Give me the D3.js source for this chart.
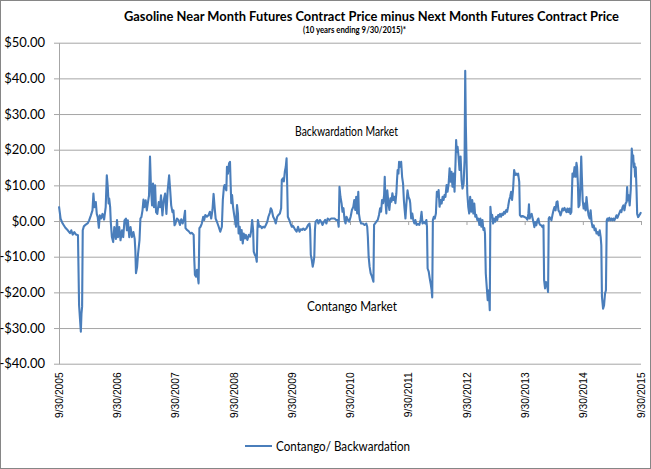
<!DOCTYPE html>
<html>
<head>
<meta charset="utf-8">
<script src="https://cdn.jsdelivr.net/npm/d3@7"></script>
<style>
  body { margin: 0; background: #fff; }
  svg { display: block; }
  .grid line { stroke: #a6a6a6; }
  .grid path { display: none; }
</style>
</head>
<body>
<svg id="chart" width="651" height="469"></svg>
<script>
// Near month minus next month spread (one array per Oct-Sep year)
const fy2006 = [["2005-09-30",4.1],["2005-10-10",0.7],["2005-10-23",-0.7],["2005-11-09",-1.9],["2005-11-24",-2.6],["2005-12-08",-3.4],["2005-12-16",-2.6],["2005-12-25",-3.8],["2006-01-04",-3.1],["2006-01-15",-3.8],["2006-01-27",-4.0],["2006-02-03",-23.6],["2006-02-10",-28.3],["2006-02-14",-31],["2006-02-18",-26],["2006-02-22",-24],["2006-02-26",-2.6],["2006-03-05",-1.5],["2006-03-17",-1],["2006-03-30",-0.6],["2006-04-07",0.2],["2006-04-18",1.6],["2006-04-28",3],["2006-05-04",7.7],["2006-05-10",3.9],["2006-05-19",5.3],["2006-05-25",2],["2006-05-31",1.1],["2006-06-07",-1.9],["2006-06-13",1.6],["2006-06-21",0.7],["2006-06-30",2],["2006-07-10",0.4],["2006-07-20",3.9],["2006-07-27",12.8],["2006-08-02",9.5],["2006-08-07",4.9],["2006-08-11",6.3],["2006-08-17",3.9],["2006-08-21",-0.3],["2006-08-28",-4.5],["2006-09-05",-5.9],["2006-09-12",-1.7],["2006-09-22",-5],["2006-09-29",0.3]];
const fy2007 = [["2006-10-05",-4.5],["2006-10-13",-1.7],["2006-10-21",-5.4],["2006-10-30",-2.6],["2006-11-07",-4.5],["2006-11-15",0.2],["2006-11-24",0.7],["2006-11-30",-2.6],["2006-12-06",0.2],["2006-12-15",-4.5],["2006-12-23",-1.7],["2007-01-01",-4.5],["2007-01-10",-3.1],["2007-01-18",-5],["2007-01-22",-8.2],["2007-01-26",-14.6],["2007-02-02",-12.9],["2007-02-08",-9.2],["2007-02-17",-5.4],["2007-02-23",0.7],["2007-03-01",1.1],["2007-03-08",3],["2007-03-14",6],["2007-03-20",3.9],["2007-03-28",5.8],["2007-04-04",3],["2007-04-10",4.9],["2007-04-18",7.2],["2007-04-24",18.1],["2007-04-30",9.5],["2007-05-07",4.4],["2007-05-13",10.5],["2007-05-19",3.9],["2007-05-26",10],["2007-06-01",2.5],["2007-06-09",2],["2007-06-18",5.3],["2007-06-26",3.9],["2007-07-02",7.2],["2007-07-11",1.6],["2007-07-19",5.8],["2007-07-28",7.7],["2007-08-05",2],["2007-08-13",8.6],["2007-08-22",12.8],["2007-08-28",9.1],["2007-09-04",4.4],["2007-09-12",2.5],["2007-09-18",3],["2007-09-25",-1.2]];
const fy2008 = [["2007-10-03",-0.3],["2007-10-10",0.7],["2007-10-20",0.3],["2007-10-29",-1.1],["2007-11-06",0.5],["2007-11-15",-0.7],["2007-11-23",0.7],["2007-11-30",2.9],["2007-12-03",-2],["2007-12-12",-2.5],["2007-12-22",-2.8],["2008-01-02",-3.5],["2008-01-12",-3.3],["2008-01-23",-3.9],["2008-01-27",-10.9],["2008-01-31",-15.1],["2008-02-07",-15.6],["2008-02-13",-13.7],["2008-02-19",-16],["2008-02-23",-17.5],["2008-02-28",-2],["2008-03-06",-1.6],["2008-03-14",-0.7],["2008-03-23",1.2],["2008-03-29",0.3],["2008-04-05",1.7],["2008-04-15",1.2],["2008-04-26",1.7],["2008-05-04",2.6],["2008-05-12",0.7],["2008-05-20",3.1],["2008-05-27",7.6],["2008-06-03",3.6],["2008-06-09",0.7],["2008-06-17",-0.2],["2008-06-28",-1.6],["2008-07-08",-3],["2008-07-18",-1.6],["2008-07-24",5.9],["2008-07-31",9.6],["2008-08-04",10.1],["2008-08-11",9.1],["2008-08-15",8.6],["2008-08-19",15.2],["2008-08-25",13.3],["2008-09-01",16.2],["2008-09-07",16.6],["2008-09-11",10.5],["2008-09-15",5],["2008-09-20",7.3],["2008-09-26",4]];
const fy2009 = [["2008-10-02",2.1],["2008-10-08",0.3],["2008-10-15",-1.6],["2008-10-21",4.5],["2008-10-27",2.1],["2008-10-31",-3.5],["2008-11-07",-1.6],["2008-11-13",-5.3],["2008-11-19",-2.5],["2008-11-26",-6.3],["2008-12-02",-3.5],["2008-12-10",-4.9],["2008-12-16",-3.9],["2008-12-25",-5.3],["2009-01-03",-3.9],["2009-01-11",-4.4],["2009-01-17",-3],["2009-01-24",0.3],["2009-01-30",-2.5],["2009-02-03",-8.6],["2009-02-10",-9.5],["2009-02-16",-9.9],["2009-02-22",-11.4],["2009-02-26",-2.5],["2009-03-01",0.3],["2009-03-09",-1.6],["2009-03-17",-1.4],["2009-03-26",-2],["2009-04-03",-1.6],["2009-04-12",-1.8],["2009-04-20",-1.1],["2009-04-29",-0.2],["2009-05-06",1.2],["2009-05-15",2.3],["2009-05-21",3.6],["2009-05-27",3.1],["2009-06-05",1.2],["2009-06-13",0.5],["2009-06-21",-0.7],["2009-06-30",1.2],["2009-07-08",1.7],["2009-07-17",2.1],["2009-07-25",3.6],["2009-07-29",11.5],["2009-08-05",12],["2009-08-11",11.1],["2009-08-17",13.8],["2009-08-23",15.2],["2009-08-28",17.6],["2009-09-01",9.6],["2009-09-05",1.2],["2009-09-14",0.3],["2009-09-22",-0.7]];
const fy2010 = [["2009-09-30",-1.6],["2009-10-08",-1.4],["2009-10-22",-2.5],["2009-10-30",-3],["2009-11-08",-1.6],["2009-11-17",-3],["2009-11-25",-2.3],["2009-12-03",-2.5],["2009-12-11",-2.1],["2009-12-20",-2.5],["2009-12-30",-2.1],["2010-01-10",-1.1],["2010-01-19",-0.7],["2010-01-23",-2.5],["2010-01-27",-9.5],["2010-02-02",-10.9],["2010-02-08",-12.8],["2010-02-14",-11.4],["2010-02-18",-10],["2010-02-22",-2.5],["2010-02-26",-0.2],["2010-03-08",0.3],["2010-03-16",-0.7],["2010-03-25",0.3],["2010-04-02",-0.2],["2010-04-11",-1.1],["2010-04-19",-0.2],["2010-04-27",0.3],["2010-05-05",-0.7],["2010-05-13",0.7],["2010-05-24",0.3],["2010-06-04",0.7],["2010-06-14",0.7],["2010-06-25",0.7],["2010-07-05",0.3],["2010-07-15",0.3],["2010-07-21",-1.6],["2010-07-26",9.6],["2010-08-01",6.8],["2010-08-08",5],["2010-08-14",2.6],["2010-08-20",3.6],["2010-08-27",0.3],["2010-09-02",-0.7],["2010-09-08",1.2],["2010-09-17",0.3],["2010-09-25",-0.2]];
const fy2011 = [["2010-10-04",1.2],["2010-10-12",3.1],["2010-10-21",4],["2010-10-27",5.9],["2010-11-02",3.1],["2010-11-08",6.8],["2010-11-14",2.1],["2010-11-21",8.2],["2010-11-25",2.1],["2010-12-01",0.3],["2010-12-09",-0.7],["2010-12-20",-0.7],["2010-12-30",-1.1],["2011-01-10",-0.7],["2011-01-16",-1.6],["2011-01-20",-4.4],["2011-01-25",-10],["2011-01-31",-12.8],["2011-02-07",-14.7],["2011-02-15",-15.6],["2011-02-24",-17],["2011-02-28",-1.1],["2011-03-06",-0.7],["2011-03-14",-0.2],["2011-03-23",0.3],["2011-03-31",1.7],["2011-04-07",3.6],["2011-04-13",2.6],["2011-04-19",5.9],["2011-04-26",5],["2011-05-02",7.3],["2011-05-06",12.4],["2011-05-10",5.9],["2011-05-16",2.1],["2011-05-22",8.6],["2011-05-29",5],["2011-06-04",3.1],["2011-06-11",6.4],["2011-06-17",5.4],["2011-06-23",7.8],["2011-06-30",5.9],["2011-07-06",6.8],["2011-07-12",5],["2011-07-18",7.8],["2011-07-22",11.5],["2011-07-26",14.3],["2011-07-31",13.3],["2011-08-04",16.6],["2011-08-10",15.2],["2011-08-17",16.6],["2011-08-23",12.4],["2011-08-29",10.5],["2011-09-03",5.9],["2011-09-07",3.6],["2011-09-13",0.7],["2011-09-19",4.9],["2011-09-26",8.6]];
const fy2012 = [["2011-10-02",6.8],["2011-10-10",5.9],["2011-10-13",5],["2011-10-19",0.7],["2011-10-26",2.1],["2011-11-01",0.3],["2011-11-08",-0.7],["2011-11-14",0.3],["2011-11-22",-1.1],["2011-11-30",-0.8],["2011-12-09",-1.1],["2011-12-17",0.3],["2011-12-23",2.6],["2011-12-29",-0.7],["2012-01-07",-0.2],["2012-01-16",-0.7],["2012-01-22",0.3],["2012-01-26",-1.6],["2012-01-30",-13.3],["2012-02-06",-14.2],["2012-02-12",-16],["2012-02-18",-17.5],["2012-02-24",-19.3],["2012-02-28",-21.4],["2012-03-03",0.3],["2012-03-09",1.2],["2012-03-15",0.7],["2012-03-22",2.1],["2012-03-28",8.2],["2012-04-04",6.8],["2012-04-08",8.7],["2012-04-14",4],["2012-04-20",5.9],["2012-04-27",4.9],["2012-05-03",6.8],["2012-05-09",5.9],["2012-05-15",7.3],["2012-05-21",6.8],["2012-05-28",10.1],["2012-06-03",8.2],["2012-06-10",10.5],["2012-06-16",14.8],["2012-06-22",11],["2012-06-28",13.8],["2012-07-04",9.6],["2012-07-11",13.3],["2012-07-17",8.2],["2012-07-23",16.2],["2012-07-27",22.7],["2012-07-31",19.4],["2012-08-05",20.8],["2012-08-11",18.1],["2012-08-17",14.3],["2012-08-24",18.1],["2012-08-30",11.5],["2012-09-05",9.1],["2012-09-12",10.5],["2012-09-18",17.2],["2012-09-22",42.1],["2012-09-26",26.5]];
const fy2013 = [["2012-10-01",15.3],["2012-10-05",7.8],["2012-10-11",4],["2012-10-17",2.1],["2012-10-23",6.8],["2012-10-30",2.6],["2012-11-05",5.9],["2012-11-12",2.1],["2012-11-18",4.9],["2012-11-24",1.2],["2012-11-30",1.7],["2012-12-07",0.3],["2012-12-13",0.7],["2012-12-20",-1.1],["2012-12-26",0.7],["2013-01-01",-1.6],["2013-01-08",0.3],["2013-01-14",-2.5],["2013-01-20",-2],["2013-01-24",-3.5],["2013-01-29",-14.7],["2013-02-04",-18.5],["2013-02-10",-22.2],["2013-02-17",-19.4],["2013-02-23",-25],["2013-02-27",4],["2013-03-04",1.2],["2013-03-10",1.7],["2013-03-16",-0.7],["2013-03-22",0.7],["2013-03-29",-0.2],["2013-04-04",1.2],["2013-04-11",0.3],["2013-04-17",1.7],["2013-04-23",1.2],["2013-04-29",2],["2013-05-05",1.2],["2013-05-12",2.1],["2013-05-18",1.7],["2013-05-24",2.6],["2013-05-30",2.1],["2013-06-06",3.1],["2013-06-12",2.6],["2013-06-18",4],["2013-06-25",5.9],["2013-07-01",6.8],["2013-07-07",8.2],["2013-07-13",5.9],["2013-07-19",8.7],["2013-07-26",14.3],["2013-08-01",12.9],["2013-08-08",13.3],["2013-08-14",12.9],["2013-08-20",13.3],["2013-08-27",11],["2013-08-31",1.7],["2013-09-09",1.2],["2013-09-17",1.4],["2013-09-26",1.2]];
const fy2014 = [["2013-10-09",0.9],["2013-10-17",0.4],["2013-10-23",2],["2013-10-27",4.7],["2013-10-31",0.7],["2013-11-07",1.6],["2013-11-13",2],["2013-11-19",0.7],["2013-11-26",-0.7],["2013-11-30",-1.7],["2013-12-06",-0.3],["2013-12-12",-1.2],["2013-12-19",0.2],["2013-12-25",0.7],["2013-12-31",-0.7],["2014-01-07",-1.2],["2014-01-13",-1.2],["2014-01-19",-1.7],["2014-01-26",-1.2],["2014-01-30",-16.6],["2014-02-05",-18.9],["2014-02-11",-17.1],["2014-02-17",-17.6],["2014-02-24",-19.9],["2014-02-28",0.7],["2014-03-05",1.1],["2014-03-11",0.7],["2014-03-17",0.2],["2014-03-23",1.6],["2014-03-30",3],["2014-04-05",3.9],["2014-04-12",3],["2014-04-18",5.3],["2014-04-24",5.5],["2014-04-30",3],["2014-05-07",2.5],["2014-05-13",1.6],["2014-05-19",2.5],["2014-05-25",3.5],["2014-05-31",3],["2014-06-07",3.7],["2014-06-13",3],["2014-06-19",2.5],["2014-06-25",3.5],["2014-07-02",2.5],["2014-07-08",3.5],["2014-07-14",2],["2014-07-20",2.5],["2014-07-27",13.3],["2014-08-02",12.4],["2014-08-09",15.1],["2014-08-15",12.4],["2014-08-21",16.3],["2014-08-25",15.1],["2014-08-30",10.5],["2014-09-03",3.9],["2014-09-09",4.4],["2014-09-15",10.5],["2014-09-20",18.1],["2014-09-24",12.4],["2014-09-29",5.8]];
const fy2015 = [["2014-10-05",3.5],["2014-10-11",4.9],["2014-10-17",3],["2014-10-23",6.7],["2014-10-30",3.5],["2014-11-05",1.6],["2014-11-12",0.7],["2014-11-18",3],["2014-11-24",-0.3],["2014-11-30",-1.7],["2014-12-07",-1.2],["2014-12-13",-2.6],["2014-12-19",-2.1],["2014-12-25",-3.5],["2015-01-01",-3.1],["2015-01-07",-4],["2015-01-14",-2.6],["2015-01-20",-4.5],["2015-01-24",-6.8],["2015-01-28",-21.3],["2015-02-04",-24.6],["2015-02-10",-23.7],["2015-02-16",-20.4],["2015-02-22",-19.4],["2015-02-27",0.2],["2015-03-03",0.7],["2015-03-09",0.2],["2015-03-15",0.9],["2015-03-22",0.2],["2015-03-28",0.7],["2015-04-04",0.2],["2015-04-10",0.7],["2015-04-16",0.2],["2015-04-23",0.9],["2015-04-29",1.6],["2015-05-05",0.9],["2015-05-11",1.6],["2015-05-17",2.2],["2015-05-24",3],["2015-05-30",2.5],["2015-06-06",3.9],["2015-06-12",4.4],["2015-06-18",3],["2015-06-25",4.9],["2015-07-01",5.3],["2015-07-05",9.5],["2015-07-09",5.8],["2015-07-15",7.2],["2015-07-21",4.4],["2015-07-28",9.1],["2015-08-03",20.3],["2015-08-07",17.9],["2015-08-12",18.4],["2015-08-16",15.1],["2015-08-20",16.1],["2015-08-24",12.4],["2015-08-28",15.1],["2015-09-02",8.6],["2015-09-06",2],["2015-09-12",1.1],["2015-09-19",1.6],["2015-09-25",2],["2015-09-30",2.5]];

const yTicks = [50, 40, 30, 20, 10, 0, -10, -20, -30, -40];
const xTickDates = ["2005-09-30","2006-09-30","2007-09-30","2008-09-30","2009-09-30","2010-09-30",
                    "2011-09-30","2012-09-30","2013-09-30","2014-09-30","2015-09-30"];
const title = "Gasoline Near Month Futures Contract Price minus Next Month Futures Contract Price";
const subtitle = "(10 years ending 9/30/2015)*";
const upperNote = "Backwardation Market";
const lowerNote = "Contango Market";
const seriesName = "Contango/ Backwardation";

const parse = d3.timeParse("%Y-%m-%d");
const data = [].concat(fy2006, fy2007, fy2008, fy2009, fy2010, fy2011, fy2012, fy2013, fy2014, fy2015)
  .map(d => ({date: parse(d[0]), value: d[1]}));
const xTicks = xTickDates.map(parse);

const svg = d3.select("#chart");
const W = +svg.attr("width"), H = +svg.attr("height");
const margin = {top: 42.7, right: 10, bottom: 105.3, left: 59};
const width = W - margin.left - margin.right;
const height = H - margin.top - margin.bottom;
const textFont = "Lato, 'Open Sans', sans-serif";
const lineColor = "#4a7ebb";

// outer chart border
svg.append("rect")
  .attr("x", 0.5).attr("y", 0.5)
  .attr("width", W - 1).attr("height", H - 1)
  .attr("fill", "#fff").attr("stroke", "#868686");

const g = svg.append("g").attr("transform", `translate(${margin.left},${margin.top})`);

// Scales
const x = d3.scaleTime().domain([xTicks[0], xTicks[xTicks.length - 1]]).range([0, width]);
const y = d3.scaleLinear().domain([-40, 50]).range([height, 0]);

// Horizontal gridlines
g.append("g")
  .attr("class", "grid")
  .call(d3.axisLeft(y).tickValues(yTicks).tickSize(-width).tickFormat(""));

// Value axis
const money = d => (d < 0 ? "-" : "") + "$" + Math.abs(d).toFixed(2);
const yAxis = g.append("g")
  .call(d3.axisLeft(y).tickValues(yTicks).tickSize(5).tickSizeOuter(0).tickPadding(9).tickFormat(money));
yAxis.selectAll("line, path").attr("stroke", "#a6a6a6");
yAxis.selectAll("text")
  .attr("font-family", textFont).attr("font-size", 13).attr("fill", "#000");

// Category axis crossing at zero, with its tick marks
const zeroAxis = g.append("g")
  .attr("transform", `translate(0,${y(0)})`)
  .call(d3.axisBottom(x).tickValues(xTicks).tickSize(4).tickSizeOuter(0).tickFormat(""));
zeroAxis.selectAll("line, path").attr("stroke", "#a6a6a6");

// Date labels, placed low
const xAxis = g.append("g")
  .attr("transform", `translate(0,${height})`)
  .call(d3.axisBottom(x).tickValues(xTicks).tickSize(0).tickFormat(d3.timeFormat("%-m/%d/%Y")));
xAxis.select(".domain").remove();
xAxis.selectAll("text")
  .attr("transform", "rotate(-90)")
  .attr("x", -8.5).attr("y", 0).attr("dy", "0.35em")
  .attr("text-anchor", "end")
  .attr("font-family", "'Liberation Sans', Arial, sans-serif")
  .attr("font-size", 10.3).attr("fill", "#000");

// Series line
const line = d3.line()
  .x(d => x(d.date))
  .y(d => y(d.value));

g.append("path")
  .datum(data)
  .attr("fill", "none")
  .attr("stroke", lineColor)
  .attr("stroke-width", 2.1)
  .attr("stroke-linejoin", "round")
  .attr("d", line);

// Titles and notes
svg.append("text")
  .attr("x", 124).attr("y", 21)
  .attr("textLength", 495).attr("lengthAdjust", "spacingAndGlyphs")
  .attr("font-family", textFont).attr("font-weight", "bold").attr("font-size", 13)
  .text(title);

svg.append("text")
  .attr("x", 303).attr("y", 32.5)
  .attr("textLength", 103).attr("lengthAdjust", "spacingAndGlyphs")
  .attr("font-family", textFont).attr("font-weight", "bold").attr("font-size", 9.5)
  .text(subtitle);

svg.append("text")
  .attr("x", 295).attr("y", 136)
  .attr("textLength", 103).attr("lengthAdjust", "spacingAndGlyphs")
  .attr("font-family", textFont).attr("font-size", 13)
  .text(upperNote);

svg.append("text")
  .attr("x", 307).attr("y", 310.5)
  .attr("textLength", 90).attr("lengthAdjust", "spacingAndGlyphs")
  .attr("font-family", textFont).attr("font-size", 13)
  .text(lowerNote);

// Legend
const legend = svg.append("g").attr("transform", "translate(245,446)");
legend.append("line")
  .attr("x1", 0).attr("x2", 27)
  .attr("stroke", lineColor).attr("stroke-width", 2);
legend.append("text")
  .attr("x", 31).attr("y", 4.5)
  .attr("textLength", 134).attr("lengthAdjust", "spacingAndGlyphs")
  .attr("font-family", textFont).attr("font-size", 13)
  .text(seriesName);
</script>
</body>
</html>
